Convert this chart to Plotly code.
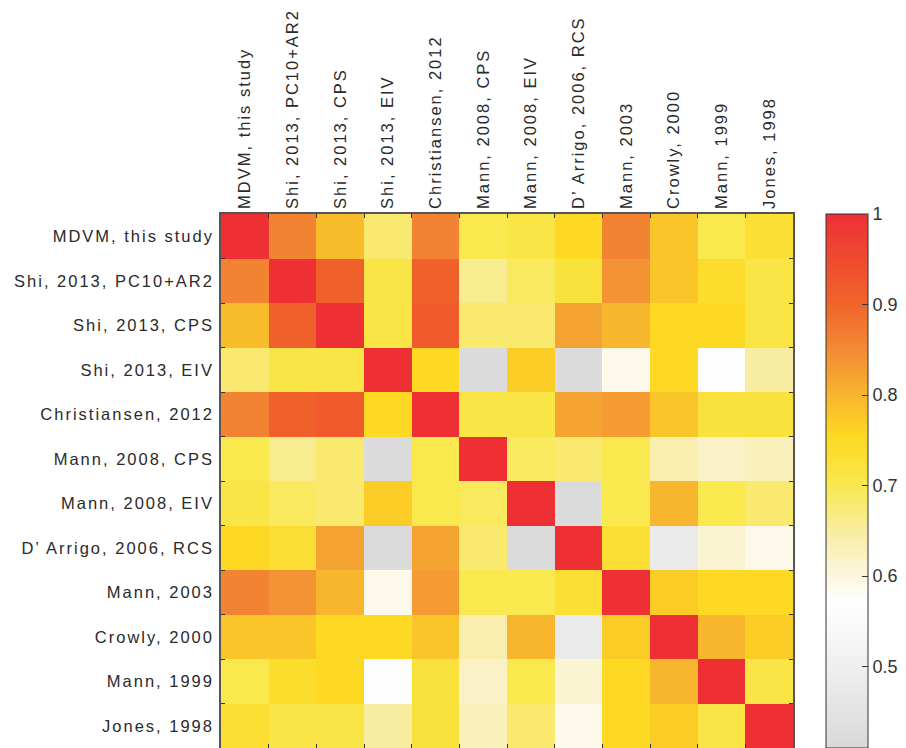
import plotly.graph_objects as go

labels = ["MDVM, this study", "Shi, 2013, PC10+AR2", "Shi, 2013, CPS", "Shi, 2013, EIV",
          "Christiansen, 2012", "Mann, 2008, CPS", "Mann, 2008, EIV", "D’ Arrigo, 2006, RCS",
          "Mann, 2003", "Crowly, 2000", "Mann, 1999", "Jones, 1998"]

r_mdvm   = [1.00, 0.86, 0.79, 0.68, 0.86, 0.70, 0.71, 0.75, 0.86, 0.78, 0.70, 0.73]
r_shi_pc = [0.86, 1.00, 0.91, 0.71, 0.91, 0.66, 0.69, 0.72, 0.84, 0.78, 0.74, 0.71]
r_shi_cp = [0.79, 0.91, 1.00, 0.71, 0.92, 0.68, 0.68, 0.82, 0.80, 0.75, 0.75, 0.71]
r_shi_ei = [0.68, 0.71, 0.71, 1.00, 0.75, 0.42, 0.77, 0.42, 0.59, 0.75, 0.56, 0.65]
r_chris  = [0.86, 0.91, 0.92, 0.75, 1.00, 0.71, 0.71, 0.82, 0.83, 0.78, 0.72, 0.72]
r_m08cps = [0.70, 0.66, 0.68, 0.42, 0.70, 1.00, 0.69, 0.68, 0.70, 0.64, 0.62, 0.63]
r_m08eiv = [0.71, 0.69, 0.68, 0.77, 0.70, 0.69, 1.00, 0.42, 0.70, 0.80, 0.70, 0.68]
r_darr   = [0.75, 0.73, 0.82, 0.42, 0.82, 0.68, 0.42, 1.00, 0.73, 0.48, 0.61, 0.59]
r_m03    = [0.86, 0.84, 0.80, 0.59, 0.83, 0.70, 0.70, 0.73, 1.00, 0.77, 0.75, 0.75]
r_crow   = [0.78, 0.78, 0.75, 0.75, 0.78, 0.64, 0.80, 0.48, 0.77, 1.00, 0.80, 0.77]
r_m99    = [0.70, 0.74, 0.75, 0.56, 0.72, 0.62, 0.70, 0.61, 0.75, 0.80, 1.00, 0.71]
r_jones  = [0.73, 0.71, 0.71, 0.65, 0.72, 0.63, 0.68, 0.59, 0.75, 0.77, 0.71, 1.00]

z = [r_mdvm, r_shi_pc, r_shi_cp, r_shi_ei, r_chris, r_m08cps, r_m08eiv, r_darr,
     r_m03, r_crow, r_m99, r_jones]

cb_ticks = [0.5, 0.6, 0.7, 0.8, 0.9, 1.0]
cb_text = ["0.5", "0.6", "0.7", "0.8", "0.9", "1"]

zmin, zmax = 0.41, 1.0
def p(v):
    return (v - zmin) / (zmax - zmin)

colorscale = [
    [0.0, "#d9d9d9"],
    [p(0.50), "#efefef"],
    [p(0.57), "#ffffff"],
    [p(0.60), "#fcf6e0"],
    [p(0.65), "#f8eca0"],
    [p(0.70), "#f9e84e"],
    [p(0.755), "#fdd820"],
    [p(0.80), "#f8b52e"],
    [p(0.85), "#f38a35"],
    [p(0.90), "#f0652a"],
    [1.0, "#ee3035"],
]

fig = go.Figure()
fig.add_trace(go.Heatmap(
    z=z, x=labels, y=labels, zmin=zmin, zmax=zmax, colorscale=colorscale,
    colorbar=dict(
        x=(826 - 221) / 572, xanchor="left", xpad=0,
        y=0.5, yanchor="middle", len=1, lenmode="fraction", ypad=0,
        thickness=42, thicknessmode="pixels",
        outlinewidth=1, outlinecolor="#333333",
        tickvals=cb_ticks, ticktext=cb_text,
        ticks="inside", ticklen=6, tickcolor="#333333",
        tickfont=dict(family="Liberation Sans, Arial", size=18, color="#333333"),
    ),
))

# left-side colorbar ticks
x0 = (826 - 221) / 572
for v in cb_ticks[:-1]:
    fig.add_shape(type="line", xref="paper", yref="paper",
                  x0=x0, x1=x0 + 6 / 572, y0=p(v), y1=p(v),
                  line=dict(color="#333333", width=1))

axis_font = dict(family="Liberation Sans, Arial", size=16.5, color="#2a2a2a")
fig.update_xaxes(side="top", type="category", tickangle=-90, tickfont=axis_font,
                 tickson="boundaries", ticks="inside", ticklen=4, tickcolor="#333333",
                 showline=True, linecolor="#555555", linewidth=1.5, mirror="allticks",
                 showgrid=False, zeroline=False, automargin=False)
fig.update_yaxes(type="category", autorange="reversed", tickfont=axis_font,
                 tickson="boundaries", ticks="inside", ticklen=4, tickcolor="#333333",
                 showline=True, linecolor="#555555", linewidth=1.5, mirror="allticks",
                 showgrid=False, zeroline=False, automargin=False, ticklabelstandoff=2)

fig.update_layout(
    width=906, height=748,
    margin=dict(l=221, r=113, t=214, b=0),
    paper_bgcolor="white", plot_bgcolor="white",
)

post = (
    "document.body.style.margin='0';"
    "document.body.style.overflow='hidden';"
    "var gd=document.getElementById('{plot_id}');"
    "gd.querySelectorAll('.xtick text, .ytick text').forEach(function(t){t.style.letterSpacing='2px';});"
)
fig.write_html("out.html", post_script=post, config={"displayModeBar": False})
